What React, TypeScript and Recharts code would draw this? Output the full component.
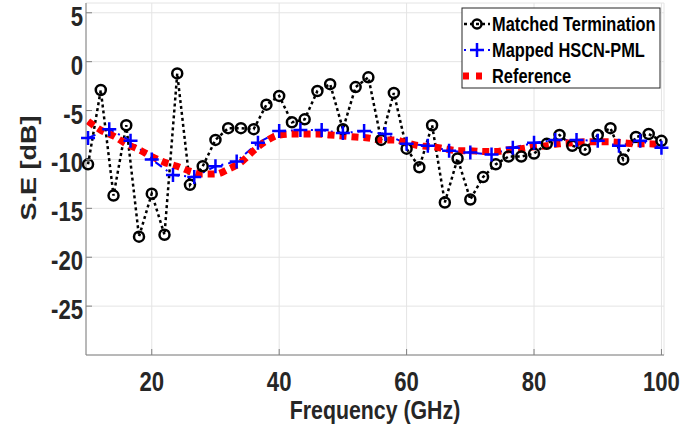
import { LineChart, Line, XAxis, YAxis, CartesianGrid } from "recharts";

// Matched Termination (circles, every 2 GHz)
const matchedFreq = [
  10, 12, 14, 16, 18, 20, 22, 24, 26, 28, 30, 32, 34, 36, 38, 40, 42, 44, 46,
  48, 50, 52, 54, 56, 58, 60, 62, 64, 66, 68, 70, 72, 74, 76, 78, 80, 82, 84,
  86, 88, 90, 92, 94, 96, 98, 100,
];
const matchedSE = [
  -10.5, -2.9, -13.7, -6.5, -17.9, -13.5, -17.7, -1.2, -12.6, -10.7, -8.0,
  -6.8, -6.8, -6.9, -4.4, -3.5, -6.2, -5.9, -3.0, -2.3, -6.9, -2.6, -1.6, -8.0,
  -3.2, -8.9, -10.8, -6.5, -14.4, -9.9, -14.1, -11.8, -10.5, -9.7, -9.7, -9.4,
  -8.4, -7.5, -8.6, -9.0, -7.5, -6.8, -10.0, -7.7, -7.4, -8.1,
];

// Mapped HSCN-PML (plus markers)
const mappedFreq = [
  10, 13.33, 16.67, 20, 23.33, 26.67, 30, 33.33, 36.67, 40, 43.33, 46.67, 50,
  53.33, 56.67, 60, 63.33, 66.67, 70, 73.33, 76.67, 80, 83.33, 86.67, 90,
  93.33, 96.67, 100,
];
const mappedSE = [
  -7.8, -6.9, -8.1, -10.0, -11.6, -11.8, -10.7, -10.2, -8.3, -7.1, -7.0, -7.0,
  -7.3, -7.1, -7.4, -8.4, -8.6, -9.1, -9.3, -9.5, -8.8, -8.3, -8.0, -8.0,
  -8.1, -8.6, -8.1, -8.8,
];

// Reference (smooth curve)
const refFreq = [
  10, 12, 14, 16, 18, 20, 22, 24, 26, 28, 30, 32, 34, 36, 38, 40, 42, 44, 46,
  48, 50, 52, 54, 56, 58, 60, 62, 64, 66, 68, 70, 72, 74, 76, 78, 80, 82, 84,
  86, 88, 90, 92, 94, 96, 98, 100,
];
const refSE = [
  -6.1, -7.0, -7.6, -8.4, -9.0, -9.7, -10.3, -10.7, -11.2, -11.5, -11.5, -11.0,
  -10.3, -9.1, -8.1, -7.5, -7.4, -7.4, -7.4, -7.5, -7.6, -7.7, -7.8, -8.0,
  -8.0, -8.3, -8.6, -8.7, -8.9, -9.1, -9.1, -9.2, -9.2, -9.0, -8.9, -8.7, -8.6,
  -8.4, -8.3, -8.2, -8.2, -8.2, -8.3, -8.4, -8.4, -8.5,
];

const xTicks = [20, 40, 60, 80, 100];
const yTicks = [5, 0, -5, -10, -15, -20, -25];

const matched = matchedFreq.map((f, i) => ({ f, v: matchedSE[i] }));
const mapped = mappedFreq.map((f, i) => ({ f, v: mappedSE[i] }));
const reference = refFreq.map((f, i) => ({ f, v: refSE[i] }));

const FONT = "'Liberation Sans', Arial, sans-serif";
const SQUEEZE = 0.82;
const AXIS = "#808080";
const INK = "#262626";
const BLUE_DASH = "8 5 2 5";

const XTick = ({ x, y, payload }: any) => (
  <g>
    <line x1={x} x2={x} y1={y} y2={y - 6} stroke={AXIS} />
    <text
      transform={`translate(${x},${y + 36}) scale(${SQUEEZE},1)`}
      textAnchor="middle"
      fontFamily={FONT}
      fontWeight="bold"
      fontSize={27}
      fill={INK}
    >
      {payload.value}
    </text>
  </g>
);

const YTick = ({ x, y, payload }: any) => (
  <g>
    <line x1={x} x2={x + 6} y1={y} y2={y} stroke={AXIS} />
    <text
      transform={`translate(${x - 3},${y + 13}) scale(${SQUEEZE},1)`}
      textAnchor="end"
      fontFamily={FONT}
      fontWeight="bold"
      fontSize={27}
      fill={INK}
    >
      {payload.value}
    </text>
  </g>
);

const TopTick = ({ x, y }: any) => (
  <line x1={x} x2={x} y1={y} y2={y + 6} stroke={AXIS} />
);

const RightTick = ({ x, y }: any) => (
  <line x1={x} x2={x - 6} y1={y} y2={y} stroke={AXIS} />
);

const Circle = ({ cx, cy, index }: any) => (
  <circle
    key={`c-${index}`}
    cx={cx}
    cy={cy}
    r={5}
    fill="none"
    stroke="#000"
    strokeWidth={2.5}
  />
);

const Plus = ({ cx, cy, index }: any) => (
  <path
    key={`p-${index}`}
    d={`M${cx - 7},${cy}h14M${cx},${cy - 7}v14`}
    stroke="#0000ff"
    strokeWidth={2.5}
    fill="none"
  />
);

const Legend = () => (
  <svg
    width={700}
    height={433}
    style={{ position: "absolute", left: 0, top: 0, pointerEvents: "none" }}
  >
    <rect x={462} y={8} width={198} height={80} fill="#fff" stroke={INK} />
    <line x1={464} x2={490} y1={24} y2={24} stroke="#000" strokeWidth={2.5} strokeDasharray="3 3" />
    <circle cx={477} cy={24} r={4.5} fill="none" stroke="#000" strokeWidth={2.5} />
    <line x1={464} x2={490} y1={50} y2={50} stroke="#0000ff" strokeWidth={2} strokeDasharray="2 4" />
    <path d="M470,50h14M477,43v14" stroke="#0000ff" strokeWidth={2.5} />
    <line x1={463} x2={489} y1={76} y2={76} stroke="#ff0000" strokeWidth={7} strokeDasharray="6 7" />
    {["Matched Termination", "Mapped HSCN-PML", "Reference"].map((t, i) => (
      <text
        key={t}
        transform={`translate(492,${31 + i * 26}) scale(${SQUEEZE},1)`}
        fontFamily={FONT}
        fontWeight="bold"
        fontSize={20}
        fill="#000"
      >
        {t}
      </text>
    ))}
  </svg>
);

export default function App() {
  return (
    <div style={{ position: "absolute", left: 0, top: 0, width: 700, height: 433, background: "#fff" }}>
      <LineChart
        width={700}
        height={433}
        margin={{ top: 3, right: 36, bottom: 0, left: 0 }}
      >
        <CartesianGrid stroke="#e4e4e4" />
        <XAxis
          type="number"
          dataKey="f"
          domain={[9.68, 100.4]}
          ticks={xTicks}
          height={78}
          tickSize={0}
          tickMargin={0}
          tickLine={false}
          axisLine={{ stroke: AXIS }}
          tick={<XTick />}
          label={{
            content: () => (
              <text
                transform={`translate(375,419) scale(${SQUEEZE},1)`}
                textAnchor="middle"
                fontFamily={FONT}
                fontWeight="bold"
                fontSize={26}
                fill={INK}
              >
                Frequency (GHz)
              </text>
            ),
          }}
        />
        <XAxis
          xAxisId="top"
          orientation="top"
          type="number"
          dataKey="f"
          domain={[9.68, 100.4]}
          ticks={xTicks}
          height={0}
          tickSize={0}
          tickMargin={0}
          tickLine={false}
          axisLine={{ stroke: AXIS }}
          tick={<TopTick />}
        />
        <YAxis
          type="number"
          domain={[-30, 6]}
          ticks={yTicks}
          width={86}
          tickSize={0}
          tickMargin={0}
          tickLine={false}
          axisLine={{ stroke: AXIS }}
          tick={<YTick />}
          label={{
            content: () => (
              <text
                transform={`translate(36,168) rotate(-90) scale(1,${SQUEEZE})`}
                textAnchor="middle"
                fontFamily={FONT}
                fontWeight="bold"
                fontSize={27}
                fill={INK}
              >
                S.E [dB]
              </text>
            ),
          }}
        />
        <YAxis
          yAxisId="right"
          orientation="right"
          type="number"
          domain={[-30, 6]}
          ticks={yTicks}
          width={0}
          tickSize={0}
          tickMargin={0}
          tickLine={false}
          axisLine={{ stroke: AXIS }}
          tick={<RightTick />}
        />
        <Line
          data={matched}
          dataKey="v"
          type="linear"
          stroke="#000"
          strokeWidth={2.5}
          strokeDasharray="3 3"
          dot={Circle}
          activeDot={false}
          isAnimationActive={false}
        />
        <Line
          data={mapped}
          dataKey="v"
          type="linear"
          stroke="#0000ff"
          strokeWidth={2}
          strokeDasharray={BLUE_DASH}
          dot={Plus}
          activeDot={false}
          isAnimationActive={false}
        />
        <Line
          data={reference}
          dataKey="v"
          type="monotone"
          stroke="#ff0000"
          strokeWidth={7}
          strokeDasharray="7 5"
          dot={false}
          activeDot={false}
          isAnimationActive={false}
        />
      </LineChart>
      <Legend />
    </div>
  );
}
